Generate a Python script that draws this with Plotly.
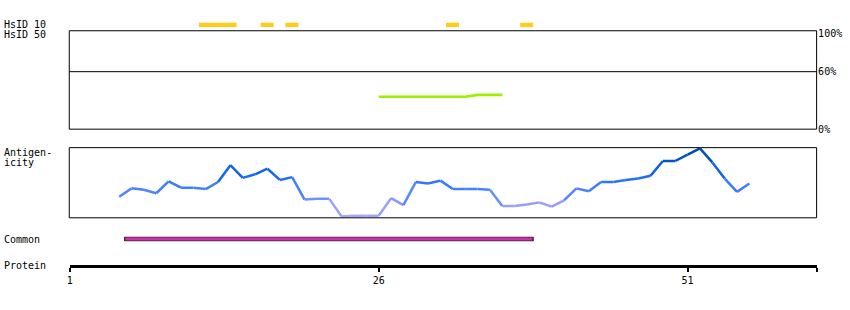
import plotly.graph_objects as go

W, H = 850, 310

# ---------------- data ----------------
residues = [5, 6, 7, 8, 9, 10, 11, 12, 13, 14, 15, 16, 17, 18, 19, 20, 21, 22, 23, 24,
            25, 26, 27, 28, 29, 30, 31, 32, 33, 34, 35, 36, 37, 38, 39, 40, 41, 42, 43, 44,
            45, 46, 47, 48, 49, 50, 51, 52, 53, 54, 55, 56]
antigenicity = [0.30, 0.42, 0.40, 0.35, 0.52, 0.43, 0.43, 0.41, 0.51, 0.75,
                0.57, 0.62, 0.70, 0.54, 0.58, 0.26, 0.27, 0.27, 0.02, 0.03,
                0.03, 0.03, 0.28, 0.18, 0.51, 0.49, 0.53, 0.41, 0.41, 0.41,
                0.40, 0.17, 0.17, 0.19, 0.22, 0.16, 0.25, 0.42, 0.38, 0.51,
                0.51, 0.54, 0.56, 0.60, 0.81, 0.81, 0.90, 0.99, 0.79, 0.56,
                0.37, 0.49]

hsid10_start = [12, 17, 19, 32, 38]
hsid10_end = [14, 17, 19, 32, 38]

hsid50_res = [26, 27, 28, 29, 30, 31, 32, 33, 34, 35, 36]
hsid50_pct = [34, 34, 34, 34, 34, 34, 34, 34, 36, 36, 36]

common_start = [6]
common_end = [38]

protein_ticks = [1, 26, 51]
protein_tick_labels = ["1", "26", "51"]
protein_axis_end = 61.48

pct_ticks = [0, 60, 100]
pct_labels = ["0%", "60%", "100%"]
threshold_pct = 60

# ---------------- helpers ----------------
def px(x):
    return x / W


def py(y):
    return 1 - y / H


FONT = "DejaVu Sans Mono"

stops = [(0.0, (172, 166, 255)), (0.2, (150, 158, 255)), (0.3, (92, 140, 255)),
         (0.45, (62, 125, 255)), (0.6, (25, 105, 245)), (0.8, (0, 88, 205)),
         (1.0, (0, 72, 160))]


def colour(v):
    v = max(0.0, min(1.0, v))
    for (a, ca), (b, cb) in zip(stops[:-1], stops[1:]):
        if a <= v <= b:
            t = (v - a) / (b - a) if b > a else 0
            c = [round(ca[i] + t * (cb[i] - ca[i])) for i in range(3)]
            return "rgb(%d,%d,%d)" % tuple(c)
    return "rgb(0,72,160)"


fig = go.Figure()

# HsID 10 bars
fig.add_trace(go.Bar(
    orientation="h",
    y=[0] * len(hsid10_start),
    base=[s - 0.55 for s in hsid10_start],
    x=[e - s + 1.05 for s, e in zip(hsid10_start, hsid10_end)],
    width=1, marker=dict(color="#FFCC1A", line=dict(width=0)),
    xaxis="x", yaxis="y2", showlegend=False, hoverinfo="skip"))

# HsID 50 line
fig.add_trace(go.Scatter(
    x=hsid50_res, y=hsid50_pct, mode="lines",
    line=dict(color="#99F000", width=2.6),
    xaxis="x", yaxis="y", showlegend=False, hoverinfo="skip"))

# Antigenicity segments
for i in range(len(residues) - 1):
    v = (antigenicity[i] + antigenicity[i + 1]) / 2
    fig.add_trace(go.Scatter(
        x=residues[i:i + 2], y=antigenicity[i:i + 2], mode="lines",
        line=dict(color=colour(v), width=2.5),
        xaxis="x", yaxis="y3", showlegend=False, hoverinfo="skip"))

# Common bar
fig.add_trace(go.Bar(
    orientation="h",
    y=[0] * len(common_start),
    base=[s - 0.55 for s in common_start],
    x=[e - s + 1.05 for s, e in zip(common_start, common_end)],
    width=1, marker=dict(color="#CC33AA", line=dict(width=1, color="black")),
    xaxis="x", yaxis="y4", showlegend=False, hoverinfo="skip"))

shapes = []
line_style = dict(color="black", width=1)
# HsID 50 box
shapes.append(dict(type="rect", xref="paper", yref="paper",
                   x0=px(66.5), x1=px(816.5), y0=py(129.5), y1=py(28.5),
                   line=line_style, fillcolor="rgba(0,0,0,0)"))
shapes.append(dict(type="line", xref="paper", yref="y",
                   x0=px(66.5), x1=px(816.5), y0=threshold_pct, y1=threshold_pct,
                   line=line_style))
# Antigenicity box
shapes.append(dict(type="rect", xref="paper", yref="paper",
                   x0=px(66.5), x1=px(816.5), y0=py(220.5), y1=py(148.5),
                   line=line_style, fillcolor="rgba(0,0,0,0)"))

annotations = []


def label(text, y):
    annotations.append(dict(text=text, xref="paper", yref="paper",
                            x=px(-1.5), y=py(y), xanchor="left", yanchor="middle",
                            showarrow=False,
                            font=dict(family=FONT, size=10, color="black")))


label("HsID 10", 22.5)
label("HsID 50", 32.5)
label("Antigen-", 153.5)
label("icity", 163.5)
label("Common", 242.5)
label("Protein", 269.5)

fig.update_layout(
    width=W, height=H,
    margin=dict(l=0, r=0, t=0, b=0, pad=0),
    paper_bgcolor="white", plot_bgcolor="white",
    barmode="overlay",
    shapes=shapes, annotations=annotations,
    font=dict(family=FONT, size=10, color="black"),
    xaxis=dict(domain=[px(67), px(817)], range=[1, protein_axis_end],
               anchor="free", position=py(269.5),
               showgrid=False, zeroline=False,
               showline=True, linecolor="black", linewidth=3,
               ticks="outside", ticklen=4, tickwidth=2, tickcolor="black",
               tickvals=protein_ticks + [protein_axis_end],
               ticktext=protein_tick_labels + [""],
               tickfont=dict(family=FONT, size=10, color="black")),
    yaxis=dict(domain=[py(130), py(28.3)], range=[0, 102.55],
               side="right", anchor="x", showgrid=False, zeroline=False,
               showline=False, ticks="", tickvals=pct_ticks, ticktext=pct_labels,
               tickfont=dict(family=FONT, size=10, color="black")),
    yaxis2=dict(domain=[py(25), py(20)], range=[-0.5, 0.5], anchor="x",
                visible=False),
    yaxis3=dict(domain=[py(220.5), py(148.5)], range=[0, 1], anchor="x",
                visible=False),
    yaxis4=dict(domain=[py(244.5), py(240)], range=[-0.5, 0.5], anchor="x",
                visible=False),
)

fig.write_html("out.html", config={"displayModeBar": False})
